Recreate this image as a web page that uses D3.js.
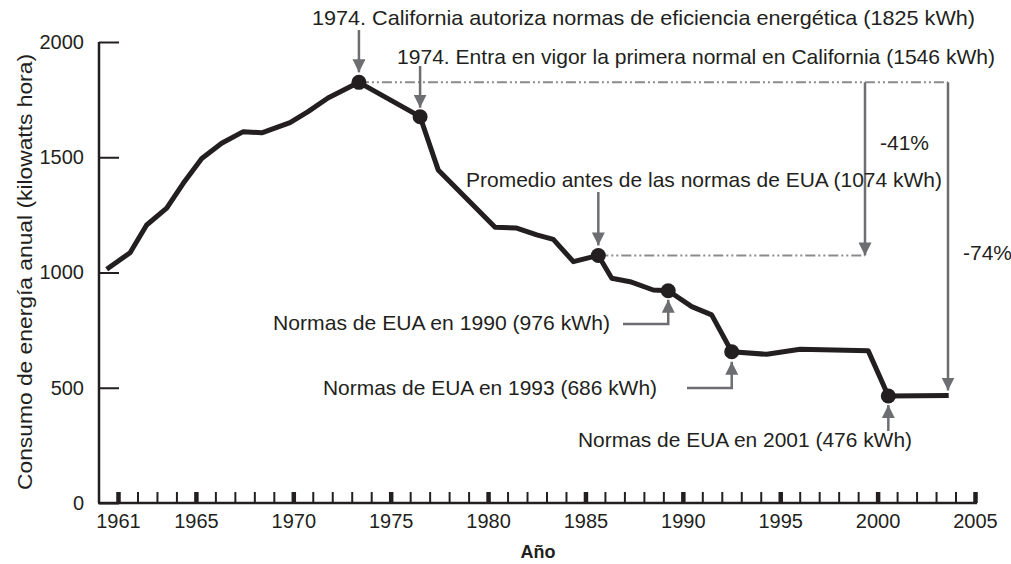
<!DOCTYPE html>
<html>
<head>
<meta charset="utf-8">
<script src="https://cdn.jsdelivr.net/npm/d3@7"></script>
<style>
	body { margin: 0; background: #fff; }
	text { font-family: "Liberation Sans", Arial, sans-serif; fill: #231f20; }
</style>
</head>
<body>
<svg id="chart" width="1011" height="564"></svg>
<script>
// data (year positions as drawn on the axis)
var years = [1960.42, 1961.62, 1962.47, 1963.50, 1964.35, 1965.30, 1966.32, 1967.43, 1968.38, 1969.83,
	1970.76, 1971.78, 1973.37, 1976.51, 1977.44, 1980.36, 1981.47, 1982.50, 1983.35, 1984.38,
	1985.66, 1986.35, 1987.29, 1988.48, 1989.25, 1990.46, 1991.48, 1992.51, 1994.31, 1996.02,
	1999.52, 2000.55, 2003.65];
var consumo = [1014, 1086, 1206, 1279, 1387, 1495, 1561, 1611, 1606, 1650,
	1698, 1757, 1825, 1676, 1445, 1196, 1193, 1163, 1144, 1047,
	1074, 975, 960, 924, 921, 852, 816, 656, 645, 667,
	660, 464, 466];
var markerIdx = [12, 13, 20, 24, 27, 31];
var yTicks = [0, 500, 1000, 1500, 2000];
var xTickLabels = [1961, 1965, 1970, 1975, 1980, 1985, 1990, 1995, 2000, 2005];
var notas = [
	"1974. California autoriza normas de eficiencia energética (1825 kWh)",
	"1974. Entra en vigor la primera normal en California (1546 kWh)",
	"Promedio antes de las normas de EUA (1074 kWh)",
	"Normas de EUA en 1990 (976 kWh)",
	"Normas de EUA en 1993 (686 kWh)",
	"Normas de EUA en 2001 (476 kWh)"
];
var cambios = ["-41%", "-74%"];
var yTitle = "Consumo de energía anual (kilowatts hora)";
var xTitle = "Año";

var svg = d3.select("#chart");
var x = d3.scaleLinear().domain([1961, 2005]).range([118, 975]);
var y = d3.scaleLinear().domain([0, 2000]).range([503, 42]);
var gray = "#6d6e71";
var dark = "#231f20";

var data = years.map(function(d, i) { return {year: d, value: consumo[i]}; });
var marks = markerIdx.map(function(i) { return data[i]; });
function px(d) { return x(d.year); }
function py(d) { return y(d.value); }

// ---- axes
var yAxis = d3.axisLeft(y).tickValues(yTicks).tickSize(-20).tickPadding(15).tickFormat(d3.format("d"));
var gy = svg.append("g").attr("transform", "translate(99,0)").call(yAxis);
gy.select(".domain").attr("stroke", dark).attr("stroke-width", 2.5)
	.attr("d", "M0," + y(2000) + "V" + y(0));
gy.selectAll(".tick line").attr("stroke", dark).attr("stroke-width", 2);
gy.selectAll(".tick text").attr("font-size", 20).attr("font-family", null).attr("fill", dark);

var allYears = d3.range(1961, 2006);
var xAxis = d3.axisBottom(x).tickValues(allYears).tickSize(-11)
	.tickFormat(function(d) { return xTickLabels.indexOf(d) >= 0 ? d : ""; });
var gx = svg.append("g").attr("transform", "translate(0,503)").call(xAxis);
gx.select(".domain").attr("stroke", dark).attr("stroke-width", 2.5)
	.attr("d", "M98,0H977");
gx.selectAll(".tick line").attr("stroke", dark)
	.attr("stroke-width", function(d) { return xTickLabels.indexOf(d) >= 0 ? 4.5 : 2; });
gx.selectAll(".tick text").attr("font-size", 20).attr("font-family", null).attr("fill", dark)
	.attr("dy", "0.35em").attr("y", 18);

svg.append("text")
	.attr("transform", "translate(32,272) rotate(-90)")
	.attr("text-anchor", "middle")
	.attr("font-size", 21)
	.attr("textLength", 436)
	.attr("lengthAdjust", "spacingAndGlyphs")
	.text(yTitle);

svg.append("text")
	.attr("x", 538).attr("y", 558)
	.attr("text-anchor", "middle")
	.attr("font-size", 18)
	.attr("font-weight", "bold")
	.text(xTitle);

// ---- reference lines (dash-dot)
var peak = marks[0], prom = marks[2], last = data[data.length - 1];
var refs = svg.append("g").attr("stroke", "#8a8b8d").attr("stroke-width", 2)
	.attr("stroke-dasharray", "10,3,2,3,2,3").attr("fill", "none");
refs.append("line").attr("x1", px(peak)).attr("x2", 948).attr("y1", py(peak)).attr("y2", py(peak));
refs.append("line").attr("x1", px(prom)).attr("x2", 865).attr("y1", py(prom)).attr("y2", py(prom));

// ---- arrows
svg.append("defs").append("marker")
	.attr("id", "head")
	.attr("viewBox", "0 0 10 10")
	.attr("refX", 10).attr("refY", 5)
	.attr("markerWidth", 5.2).attr("markerHeight", 5.2)
	.attr("markerUnits", "strokeWidth")
	.attr("orient", "auto")
	.append("path").attr("d", "M0,0L10,5L0,10Z").attr("fill", gray);

var arrows = [
	[[px(marks[0]), 30], [px(marks[0]), py(marks[0]) - 10]],
	[[px(marks[1]), 66], [px(marks[1]), py(marks[1]) - 9]],
	[[px(marks[2]), 192], [px(marks[2]), py(marks[2]) - 10]],
	[[623, 324], [px(marks[3]), 324], [px(marks[3]), py(marks[3]) + 9]],
	[[687, 388], [px(marks[4]), 388], [px(marks[4]), py(marks[4]) + 10]],
	[[px(marks[5]), 431], [px(marks[5]), py(marks[5]) + 9]],
	[[865, py(peak)], [865, py(prom)]],
	[[948, py(peak)], [948, py(last) - 5]]
];
svg.append("g").selectAll("path")
	.data(arrows)
	.enter().append("path")
	.attr("d", function(d) { return d3.line()(d); })
	.attr("fill", "none")
	.attr("stroke", gray)
	.attr("stroke-width", 2.5)
	.attr("marker-end", "url(#head)");

// ---- series
svg.append("path")
	.datum(data)
	.attr("d", d3.line().x(px).y(py))
	.attr("fill", "none")
	.attr("stroke", dark)
	.attr("stroke-width", 5)
	.attr("stroke-linejoin", "round");

svg.append("g").selectAll("circle")
	.data(marks)
	.enter().append("circle")
	.attr("cx", px)
	.attr("cy", py)
	.attr("r", 7.5)
	.attr("fill", dark);

// ---- labels
var notePos = [
	{x: 312, y: 18, w: 663},
	{x: 397, y: 57, w: 598},
	{x: 466, y: 180, w: 476},
	{x: 273, y: 323, w: 337},
	{x: 323, y: 388, w: 334},
	{x: 578, y: 440, w: 334}
];
svg.append("g").selectAll("text")
	.data(notas)
	.enter().append("text")
	.attr("x", function(d, i) { return notePos[i].x; })
	.attr("y", function(d, i) { return notePos[i].y; })
	.attr("dy", "0.35em")
	.attr("font-size", 21)
	.attr("textLength", function(d, i) { return notePos[i].w; })
	.attr("lengthAdjust", "spacingAndGlyphs")
	.text(function(d) { return d; });

var pctPos = [{x: 880, y: 143}, {x: 963, y: 253}];
svg.append("g").selectAll("text")
	.data(cambios)
	.enter().append("text")
	.attr("x", function(d, i) { return pctPos[i].x; })
	.attr("y", function(d, i) { return pctPos[i].y; })
	.attr("dy", "0.35em")
	.attr("font-size", 21)
	.text(function(d) { return d; });
</script>
</body>
</html>
